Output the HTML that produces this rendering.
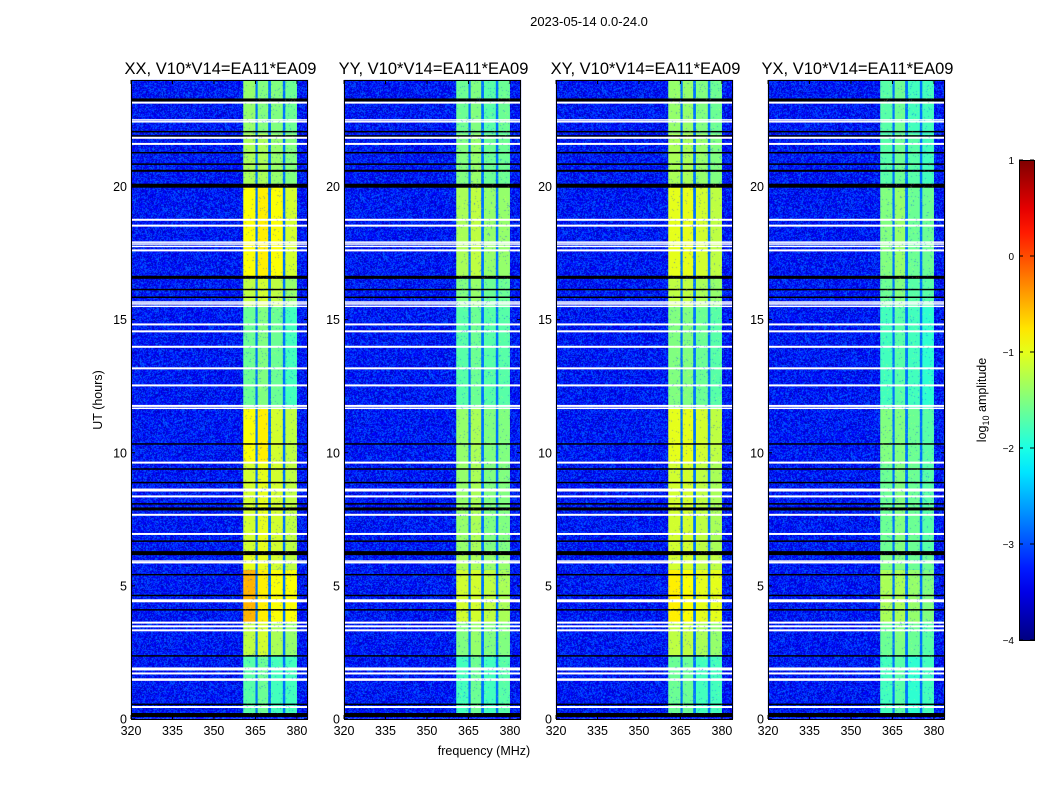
<!DOCTYPE html>
<html><head><meta charset="utf-8"><style>
body{margin:0;background:#fff;}
#wrap{position:relative;width:1050px;height:800px;overflow:hidden;font-family:"Liberation Sans",sans-serif;}
canvas,svg{position:absolute;left:0;top:0;}
</style></head><body>
<div id="wrap">
<canvas id="noise" width="1050" height="800"></canvas>
<svg id="chart" width="1050" height="800"></svg>
<canvas id="speckle" width="1050" height="800"></canvas>
<svg id="labels" width="1050" height="800"></svg>
</div>
<script>
// ---- data ----
const panelTitles = ["XX, V10*V14=EA11*EA09","YY, V10*V14=EA11*EA09","XY, V10*V14=EA11*EA09","YX, V10*V14=EA11*EA09"];
const xTicks = [320,335,350,365,380];
const yTicks = [0,5,10,15,20];
const cbTicks = [1,0,-1,-2,-3,-4];
const cbLabels = ["1","0","\u22121","\u22122","\u22123","\u22124"];
const subbandStart = [360.6,365.8,370.6,375.8];
const subbandEnd = [365.0,369.6,374.9,380.0];
const blockEdges = [0.2,2.4,3.6,5.6,6.2,9.6,11.7,15.5,16.6,20,22,24];
const levelsXX = [[-1.7,-1.6,-1.8,-1.8],[-1.2,-1.1,-1.3,-1.4],[-0.5,-0.8,-0.9,-0.9],[-1.0,-1.0,-1.1,-1.2],[-1.1,-1.0,-1.1,-1.2],[-0.9,-0.8,-1.1,-1.2],[-1.6,-1.5,-1.6,-1.8],[-1.2,-1.1,-1.2,-1.4],[-0.9,-0.8,-0.9,-1.1],[-1.3,-1.3,-1.4,-1.5],[-1.4,-1.5,-1.5,-1.6]];
const levelsYY = [[-1.8,-1.6,-1.8,-1.7],[-1.5,-1.4,-1.5,-1.5],[-1.1,-1.1,-1.2,-1.3],[-1.3,-1.3,-1.4,-1.4],[-1.4,-1.3,-1.5,-1.5],[-1.4,-1.3,-1.5,-1.5],[-1.7,-1.6,-1.7,-1.7],[-1.5,-1.4,-1.6,-1.6],[-1.3,-1.2,-1.4,-1.4],[-1.5,-1.4,-1.6,-1.6],[-1.6,-1.5,-1.7,-1.6]];
const levelsXY = [[-1.6,-1.6,-1.8,-1.8],[-1.2,-1.2,-1.3,-1.4],[-0.8,-0.9,-1.0,-1.0],[-1.1,-1.1,-1.2,-1.2],[-1.1,-1.1,-1.2,-1.3],[-1.0,-1.0,-1.1,-1.2],[-1.5,-1.5,-1.6,-1.7],[-1.2,-1.2,-1.3,-1.4],[-1.0,-1.0,-1.1,-1.2],[-1.3,-1.3,-1.4,-1.5],[-1.4,-1.4,-1.5,-1.6]];
const levelsYX = [[-1.8,-1.7,-1.9,-1.8],[-1.6,-1.5,-1.6,-1.7],[-1.3,-1.3,-1.4,-1.5],[-1.5,-1.5,-1.6,-1.6],[-1.6,-1.5,-1.6,-1.7],[-1.5,-1.5,-1.6,-1.7],[-1.8,-1.7,-1.8,-1.9],[-1.6,-1.5,-1.7,-1.7],[-1.5,-1.4,-1.6,-1.6],[-1.7,-1.6,-1.7,-1.8],[-1.7,-1.6,-1.8,-1.8]];
const whiteLines = [23.15,22.5,22.43,21.83,21.6,18.75,18.53,17.91,17.84,17.75,17.6,15.66,15.59,15.5,14.82,14.56,13.98,13.17,12.53,11.76,11.67,9.63,8.6,8.36,7.67,6.95,5.93,5.87,4.44,3.62,3.48,3.33,1.88,1.71,1.48,0.45];
const whiteWidths = [2,1.5,1.5,2,2,2,2,1.5,1.5,1.5,2,1.5,1.5,1.5,2,2,2,2,2,2,1.5,2,3,2,2,2,1.5,1.5,3,2,2,2,3,2,2.5,2];
const blackLines = [23.25,22.06,21.9,21.27,20.84,20.59,20.03,16.59,16.13,15.84,10.33,9.39,8.88,8.08,7.89,6.68,6.23,5.42,4.64,4.1,2.37,0.55,0.15];
const blackWidths = [3,1.5,1.5,1.5,1.5,2,4,3,1.5,1.5,1.5,1.5,1.5,1.5,3,1.5,4,1.5,1.5,1.5,1.5,1.5,4];
const bgLevel = -3.3;
const gapLevel = -2.8;

// ---- layout ----
const panelLeft = [131,344,556,768];
const PW = 177, PT = 80, PB = 719;
const fMin = 320, fMax = 384, hMax = 24;
function xScale(p,f){return panelLeft[p] + (f-fMin)/(fMax-fMin)*PW;}
function yScale(h){return PB - h*(PB-PT)/hMax;}
const cbX=1019, cbW=15, cbTop=160, cbBot=640;
function cbScale(v){return cbBot - (v+4)/5*(cbBot-cbTop);}
function jet(v){const t=Math.max(0,Math.min(1,(v+4)/5));const c=x=>Math.round(255*Math.max(0,Math.min(1,x)));
 return [c(1.5-Math.abs(4*t-3)),c(1.5-Math.abs(4*t-2)),c(1.5-Math.abs(4*t-1))];}
function jetStr(v){const c=jet(v);return `rgb(${c[0]},${c[1]},${c[2]})`;}
const NS="http://www.w3.org/2000/svg";
function mk(parent,tag,attrs){const e=document.createElementNS(NS,tag);for(const k in attrs)e.setAttribute(k,attrs[k]);parent.appendChild(e);return e;}

const chart=document.getElementById('chart');
const labels=document.getElementById('labels');
const allLevels=[levelsXX,levelsYY,levelsXY,levelsYX];

let seed=12345;function rnd(){seed=(seed*1103515245+12345)&0x7fffffff;return seed/0x7fffffff;}

const nc=document.getElementById('noise').getContext('2d');
const img=nc.createImageData(1050,800);
for(let p=0;p<4;p++){
 for(let y=PT;y<PB;y++)for(let x=panelLeft[p];x<panelLeft[p]+PW;x++){
  const v=bgLevel+(rnd()-0.5)*0.9;const c=jet(v);const i=(y*1050+x)*4;
  img.data[i]=c[0];img.data[i+1]=c[1];img.data[i+2]=c[2];img.data[i+3]=255;}
}
nc.putImageData(img,0,0);

for(let p=0;p<4;p++){
 const g=mk(chart,'g',{});
 
 
 const lv=allLevels[p];
 const gap=mk(g,'rect',{x:xScale(p,subbandStart[0]),y:yScale(blockEdges[blockEdges.length-1]),width:xScale(p,subbandEnd[3])-xScale(p,subbandStart[0]),height:yScale(blockEdges[0])-yScale(blockEdges[blockEdges.length-1]),fill:jetStr(gapLevel)});
 
 
 for(let b=0;b<blockEdges.length-1;b++){
  for(let s=0;s<4;s++){
   const r=mk(g,'rect',{x:xScale(p,subbandStart[s]),y:yScale(blockEdges[b+1]),width:xScale(p,subbandEnd[s])-xScale(p,subbandStart[s]),height:yScale(blockEdges[b])-yScale(blockEdges[b+1]),fill:jetStr(lv[b][s])});
   
   
  }
 }
 blackLines.forEach((h,i)=>{
  const l=mk(g,'rect',{x:panelLeft[p],y:yScale(h)-blackWidths[i]/2,width:PW,height:blackWidths[i],fill:'#000'});
  
  
 });
 whiteLines.forEach((h,i)=>{
  const l=mk(g,'rect',{x:panelLeft[p],y:yScale(h)-whiteWidths[i]/2,width:PW,height:whiteWidths[i],fill:'#fff'});
  
  
 });
}

const sc=document.getElementById('speckle').getContext('2d');
for(let p=0;p<4;p++){
 const x0=xScale(p,subbandStart[0]),x1=xScale(p,subbandEnd[3]);
 for(let i=0;i<2500;i++){
  const x=Math.floor(x0+rnd()*(x1-x0)),y=Math.floor(PT+rnd()*(yScale(0.2)-PT));
  sc.fillStyle=rnd()<0.5?'rgba(0,60,255,0.35)':'rgba(255,255,80,0.25)';
  sc.fillRect(x,y,1,1);
 }
}

for(let p=0;p<4;p++){
 const fr=mk(labels,'rect',{x:panelLeft[p]+0.5,y:PT+0.5,width:PW-1,height:PB-PT,fill:'none',stroke:'#000','stroke-width':1});
 
 
 const t=mk(labels,'text',{x:panelLeft[p]+PW/2+1,y:74,'text-anchor':'middle','font-size':16.5,fill:'#000'});
 t.textContent=panelTitles[p];
 
 
 xTicks.forEach(f=>{
  const x=xScale(p,f);
  mk(labels,'line',{x1:x,x2:x,y1:PB,y2:PB-4,stroke:'#000'});
  mk(labels,'line',{x1:x,x2:x,y1:PT,y2:PT+4,stroke:'#000'});
  const tl=mk(labels,'text',{x:x,y:PB+16,'text-anchor':'middle','font-size':12.5,fill:'#000'});
  tl.textContent=f;
  
  
 });
 yTicks.forEach(h=>{
  const y=yScale(h);
  mk(labels,'line',{x1:panelLeft[p],x2:panelLeft[p]+4,y1:y,y2:y,stroke:'#000'});
  mk(labels,'line',{x1:panelLeft[p]+PW,x2:panelLeft[p]+PW-4,y1:y,y2:y,stroke:'#000'});
  const tl=mk(labels,'text',{x:panelLeft[p]-4,y:y+4.5,'text-anchor':'end','font-size':12.5,fill:'#000'});
  tl.textContent=h;
  
  
 });
}
const defs=mk(labels,'defs',{});
const grad=mk(defs,'linearGradient',{id:'cbg',x1:0,y1:1,x2:0,y2:0});
for(let i=0;i<=20;i++){mk(grad,'stop',{offset:i/20,'stop-color':jetStr(-4+5*i/20)});}
const cb=mk(labels,'rect',{x:cbX+0.5,y:cbTop+0.5,width:cbW,height:cbBot-cbTop,fill:'url(#cbg)',stroke:'#000'});


cbTicks.forEach((v,i)=>{
 const y=cbScale(v);
 mk(labels,'line',{x1:cbX,x2:cbX+4,y1:y,y2:y,stroke:'#000'});
 mk(labels,'line',{x1:cbX+cbW,x2:cbX+cbW-4,y1:y,y2:y,stroke:'#000'});
 const tl=mk(labels,'text',{x:cbX-5,y:y+4,'text-anchor':'end','font-size':10,fill:'#000'});
 tl.textContent=cbLabels[i];
 
 
});
</script>
<svg width="1050" height="800" style="position:absolute;left:0;top:0">
<text x="589" y="26" text-anchor="middle" font-size="13" font-family="Liberation Sans, sans-serif">2023-05-14 0.0-24.0</text>
<text x="484" y="755" text-anchor="middle" font-size="12.5" font-family="Liberation Sans, sans-serif">frequency (MHz)</text>
<text transform="translate(102,400) rotate(-90)" text-anchor="middle" font-size="12.5" font-family="Liberation Sans, sans-serif">UT (hours)</text>
<text transform="translate(986,400) rotate(-90)" text-anchor="middle" font-size="12.5" font-family="Liberation Sans, sans-serif">log<tspan font-size="9" dy="3">10</tspan><tspan dy="-3"> amplitude</tspan></text>
</svg>
</body></html>
